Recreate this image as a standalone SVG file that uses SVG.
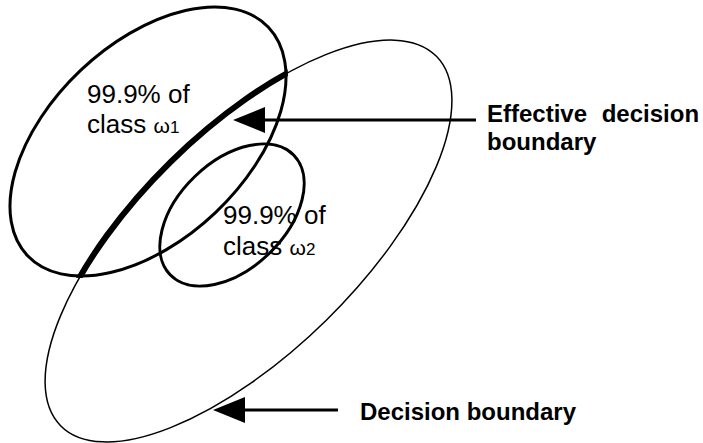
<svg xmlns="http://www.w3.org/2000/svg" width="703" height="443" viewBox="0 0 703 443">
<style>
.bg{fill:#fff}
.cls{fill:none;stroke:#000;stroke-width:3}
.db{fill:none;stroke:#000;stroke-width:1.5}
.edb{fill:none;stroke:#000;stroke-width:6}
.lbl{font-family:"Liberation Sans",Arial,sans-serif;font-size:26px;fill:#000}
.om{font-size:21px}
.sub{font-size:17px}
.bold{font-family:"Liberation Sans",Arial,sans-serif;font-size:24px;font-weight:bold;fill:#000}
.conn{fill:none;stroke:#000;stroke-width:3}
</style>
<defs>
<marker id="ah" markerUnits="userSpaceOnUse" markerWidth="34" markerHeight="28" viewBox="-33 -14 34 28" refX="-32" refY="0" orient="auto">
<path d="M0,0 L-32,-13 L-32,13 z" fill="#000"/>
</marker>
<clipPath id="clip1">
<ellipse cx="148" cy="141.5" rx="168" ry="100" transform="rotate(-43.5 148 141.5)"/>
</clipPath>
</defs>
<rect class="bg" x="0" y="0" width="703" height="443"/>
<g id="decision-boundary">
<ellipse class="db" cx="248.5" cy="241" rx="263.5" ry="111" transform="rotate(-44.5 248.5 241)"/>
</g>
<g id="effective-boundary" clip-path="url(#clip1)">
<ellipse class="edb" cx="248.5" cy="241" rx="263.5" ry="111" transform="rotate(-44.5 248.5 241)"/>
</g>
<g id="class1">
<ellipse class="cls" cx="148" cy="141.5" rx="166" ry="98" transform="rotate(-43.5 148 141.5)"/>
<text class="lbl" x="87" y="103">99.9% of</text>
<text class="lbl" x="87" y="133">class <tspan class="om">ω</tspan><tspan class="sub">1</tspan></text>
</g>
<g id="class2">
<ellipse class="cls" cx="232" cy="215" rx="86" ry="53.5" transform="rotate(-44 232 215)"/>
<text class="lbl" x="223" y="224">99.9% of</text>
<text class="lbl" x="223" y="255">class <tspan class="om">ω</tspan><tspan class="sub">2</tspan></text>
</g>
<g id="label-effective">
<text class="bold" x="487" y="122" word-spacing="8">Effective decision</text>
<text class="bold" x="487" y="150">boundary</text>
</g>
<g id="label-decision">
<text class="bold" x="360" y="420">Decision boundary</text>
</g>
<g id="connectors">
<line class="conn" x1="476" y1="120" x2="265" y2="120" marker-end="url(#ah)"/>
<line class="conn" x1="338" y1="410" x2="245" y2="410" marker-end="url(#ah)"/>
</g>
</svg>
